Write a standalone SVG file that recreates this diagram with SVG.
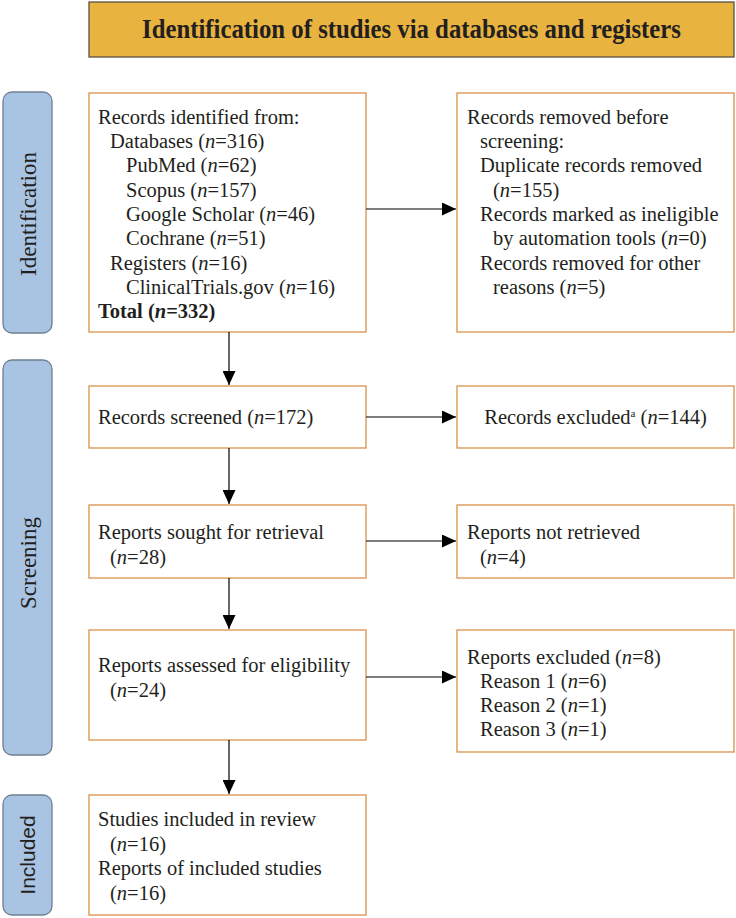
<svg xmlns="http://www.w3.org/2000/svg" width="736" height="918" viewBox="0 0 736 918">
<defs>
<style>
.box{fill:#fff;stroke:#D9914B;stroke-width:1.3}
.side{fill:#A9C4E2;stroke:#6E7F92;stroke-width:1.3}
.t{font-family:"Liberation Serif","Times New Roman",serif;font-size:20.5px;fill:#231f20}
.title{font-family:"Liberation Serif","Times New Roman",serif;font-size:27px;font-weight:bold;fill:#231f20}
.sl{font-family:"Liberation Serif","Times New Roman",serif;font-size:23px;fill:#231f20}
.sls{font-family:"Liberation Sans",Arial,sans-serif;font-size:21px;fill:#231f20}
.i{font-style:italic}
.c{stroke:#000;stroke-width:1.2;fill:none}
</style>
<marker id="ah" viewBox="0 0 14 13" refX="14" refY="6.5" markerWidth="14" markerHeight="13" markerUnits="userSpaceOnUse" orient="auto">
<path d="M0,0 L14,6.5 L0,13 Z" fill="#000"/>
</marker>
</defs>
<rect width="736" height="918" fill="#fff"/>

<g id="title">
<rect x="89" y="2" width="645" height="55" fill="#E9B33F" stroke="#5a5040" stroke-width="1.3"/>
<text class="title" x="142" y="38" textLength="539" lengthAdjust="spacingAndGlyphs">Identification of studies via databases and registers</text>
</g>

<g id="side-identification">
<rect class="side" x="3" y="92" width="49" height="241" rx="9"/>
<text class="sl" transform="translate(36,214) rotate(-90)" text-anchor="middle">Identification</text>
</g>
<g id="side-screening">
<rect class="side" x="3" y="360" width="49" height="395" rx="9"/>
<text class="sl" transform="translate(36,563) rotate(-90)" text-anchor="middle">Screening</text>
</g>
<g id="side-included">
<rect class="side" x="3" y="795" width="49" height="120" rx="9"/>
<text class="sls" transform="translate(35,855) rotate(-90)" text-anchor="middle">Included</text>
</g>

<g id="records-identified">
<rect class="box" x="89" y="93" width="277" height="239"/>
<text class="t" x="98" y="124">Records identified from:</text>
<text class="t" x="110" y="148">Databases (<tspan class="i">n</tspan>=316)</text>
<text class="t" x="126" y="172">PubMed (<tspan class="i">n</tspan>=62)</text>
<text class="t" x="126" y="197">Scopus (<tspan class="i">n</tspan>=157)</text>
<text class="t" x="126" y="221">Google Scholar (<tspan class="i">n</tspan>=46)</text>
<text class="t" x="126" y="245">Cochrane (<tspan class="i">n</tspan>=51)</text>
<text class="t" x="110" y="270">Registers (<tspan class="i">n</tspan>=16)</text>
<text class="t" x="126" y="294">ClinicalTrials.gov (<tspan class="i">n</tspan>=16)</text>
<text class="t" x="98" y="318" font-weight="bold">Total (<tspan class="i">n</tspan>=332)</text>
</g>

<g id="records-removed">
<rect class="box" x="457" y="93" width="277" height="239"/>
<text class="t" x="467" y="124">Records removed before</text>
<text class="t" x="480" y="148">screening:</text>
<text class="t" x="480" y="172">Duplicate records removed</text>
<text class="t" x="493" y="197">(<tspan class="i">n</tspan>=155)</text>
<text class="t" x="480" y="221">Records marked as ineligible</text>
<text class="t" x="493" y="245">by automation tools (<tspan class="i">n</tspan>=0)</text>
<text class="t" x="480" y="270">Records removed for other</text>
<text class="t" x="493" y="294">reasons (<tspan class="i">n</tspan>=5)</text>
</g>

<g id="records-screened">
<rect class="box" x="89" y="386" width="277" height="62"/>
<text class="t" x="98" y="424">Records screened (<tspan class="i">n</tspan>=172)</text>
</g>

<g id="records-excluded">
<rect class="box" x="457" y="386" width="277" height="62"/>
<text class="t" x="595.5" y="424" text-anchor="middle">Records excluded<tspan font-size="11" dy="-7">a</tspan><tspan dy="7"> (</tspan><tspan class="i">n</tspan>=144)</text>
</g>

<g id="reports-sought">
<rect class="box" x="89" y="505" width="277" height="73"/>
<text class="t" x="98" y="539">Reports sought for retrieval</text>
<text class="t" x="110" y="564">(<tspan class="i">n</tspan>=28)</text>
</g>

<g id="reports-not-retrieved">
<rect class="box" x="457" y="505" width="277" height="73"/>
<text class="t" x="467" y="539">Reports not retrieved</text>
<text class="t" x="480" y="564">(<tspan class="i">n</tspan>=4)</text>
</g>

<g id="reports-assessed">
<rect class="box" x="89" y="630" width="277" height="110"/>
<text class="t" x="98" y="672">Reports assessed for eligibility</text>
<text class="t" x="110" y="697">(<tspan class="i">n</tspan>=24)</text>
</g>

<g id="reports-excluded">
<rect class="box" x="457" y="630" width="277" height="122"/>
<text class="t" x="467" y="664">Reports excluded (<tspan class="i">n</tspan>=8)</text>
<text class="t" x="480" y="688">Reason 1 (<tspan class="i">n</tspan>=6)</text>
<text class="t" x="480" y="712">Reason 2 (<tspan class="i">n</tspan>=1)</text>
<text class="t" x="480" y="736">Reason 3 (<tspan class="i">n</tspan>=1)</text>
</g>

<g id="included">
<rect class="box" x="89" y="795" width="277" height="120"/>
<text class="t" x="98" y="826">Studies included in review</text>
<text class="t" x="110" y="851">(<tspan class="i">n</tspan>=16)</text>
<text class="t" x="98" y="875">Reports of included studies</text>
<text class="t" x="110" y="900">(<tspan class="i">n</tspan>=16)</text>
</g>

<g id="connectors">
<line class="c" x1="366" y1="209" x2="456" y2="209" marker-end="url(#ah)"/>
<line class="c" x1="229" y1="332" x2="229" y2="385" marker-end="url(#ah)"/>
<line class="c" x1="366" y1="417" x2="456" y2="417" marker-end="url(#ah)"/>
<line class="c" x1="229" y1="448" x2="229" y2="504" marker-end="url(#ah)"/>
<line class="c" x1="366" y1="541" x2="456" y2="541" marker-end="url(#ah)"/>
<line class="c" x1="229" y1="578" x2="229" y2="629" marker-end="url(#ah)"/>
<line class="c" x1="366" y1="677" x2="456" y2="677" marker-end="url(#ah)"/>
<line class="c" x1="229" y1="740" x2="229" y2="794" marker-end="url(#ah)"/>
</g>
</svg>
